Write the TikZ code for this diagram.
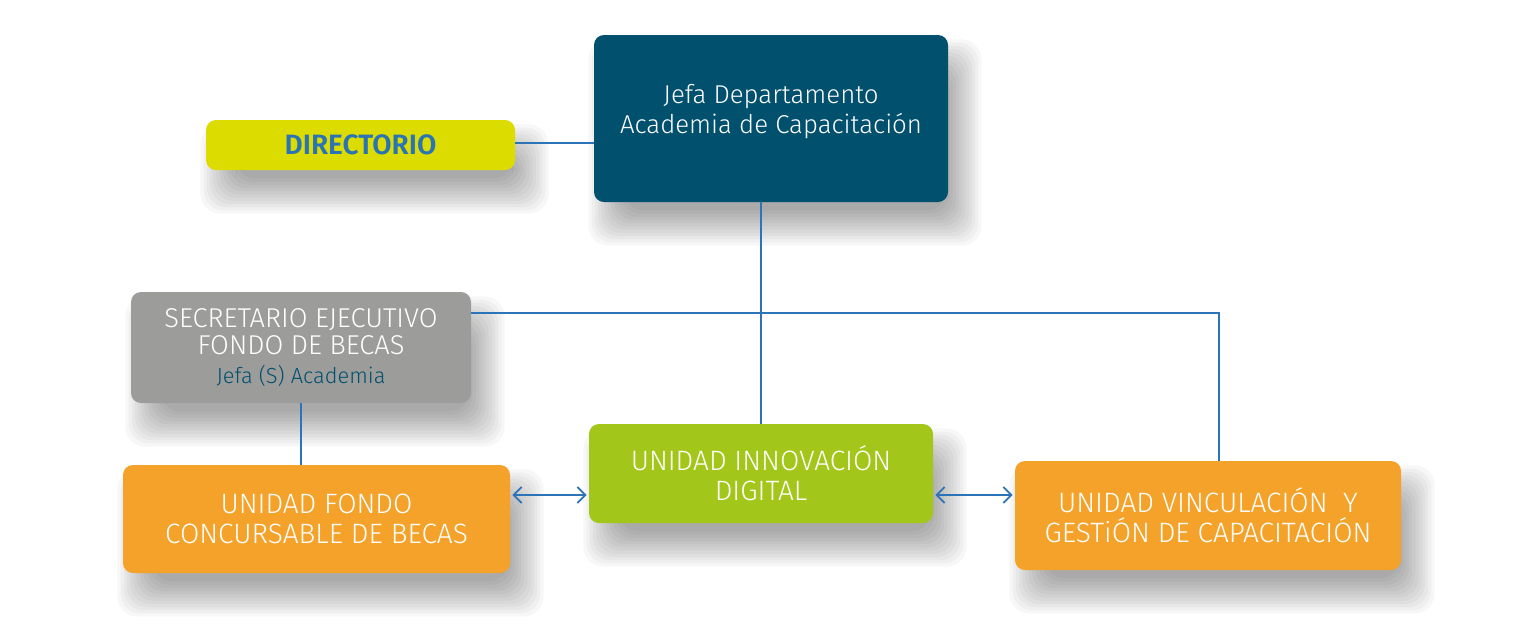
\documentclass[tikz,border=0pt]{standalone}
\usepackage{fontspec}
\setmainfont{Fira Sans Light}[BoldFont={Fira Sans SemiBold}]
\usetikzlibrary{arrows.meta,backgrounds}
\definecolor{jefacol}{HTML}{01506E}
\definecolor{dircol}{HTML}{DCDC00}
\definecolor{dirtxt}{HTML}{2A74B6}
\definecolor{secrcol}{HTML}{9C9C9B}
\definecolor{orangecol}{HTML}{F5A22A}
\definecolor{greencol}{HTML}{A3C61A}
\definecolor{linecol}{HTML}{2C73B8}
\tikzset{
  unit/.style={rounded corners=5pt, text=white, align=center, inner sep=0pt},
  shadowlayer/.style={fill=black, opacity=0.033, rounded corners=10pt},
  conn/.style={draw=linecol, line width=0.9pt},
  twoway/.style={conn, {Straight Barb[length=4pt,width=8pt]}-{Straight Barb[length=4pt,width=8pt]}}
}
\begin{document}
\begin{tikzpicture}[x=0.5pt, y=-0.5pt]
  \useasboundingbox (0,0) rectangle (1536,634);

  % boxes
  \node[unit, fill=jefacol, minimum width=177pt, minimum height=83.5pt,
        font=\fontsize{12.9}{15}\selectfont] (jefa) at (771,118.5)
        {Jefa Departamento\\Academia de Capacitación\\[-5pt]\mbox{}};
  \node[unit, fill=dircol, text=dirtxt, minimum width=154.5pt, minimum height=25pt,
        font=\fontsize{14}{15}\selectfont\bfseries] (dir) at (360.5,145) {DIRECTORIO};
  \node[unit, fill=secrcol, minimum width=170pt, minimum height=55.5pt,
        font=\fontsize{13.6}{13.4}\selectfont] (secr) at (301,347.5)
        {SECRETARIO EJECUTIVO\\FONDO DE BECAS\\[1pt]
         {\fontsize{10.9}{11}\selectfont\color{jefacol}Jefa (S) Academia}};
  \node[unit, fill=orangecol, minimum width=193.5pt, minimum height=54pt,
        font=\fontsize{14}{15}\selectfont] (fondo) at (316.5,519)
        {UNIDAD FONDO\\CONCURSABLE DE BECAS};
  \node[unit, fill=greencol, minimum width=172pt, minimum height=49.5pt,
        font=\fontsize{14}{15}\selectfont] (innov) at (761,473.5)
        {\rule{0pt}{10pt}UNIDAD INNOVACIÓN\\DIGITAL};
  \node[unit, fill=orangecol, minimum width=193pt, minimum height=54.5pt,
        font=\fontsize{14}{15}\selectfont] (vinc) at (1208,515.5)
        {UNIDAD VINCULACIÓN\ \ Y\\GESTiÓN DE CAPACITACIÓN};

  % soft shadows under the boxes
  \begin{scope}[on background layer]
    \fill[white] (0,0) rectangle (1536,634);
    \foreach \n in {jefa,dir,secr,fondo,innov,vinc}
      \foreach \k in {0,...,11}
        \fill[shadowlayer]
          ([shift={(7pt-\k*1.6pt+8pt,-12pt-\k*1.6pt+8pt)}]\n.south west) rectangle
          ([shift={(7pt+\k*1.6pt-8pt,-12pt+\k*1.6pt-8pt)}]\n.north east);
  \end{scope}

  % connectors
  \coordinate (turn) at (1219,313);
  \coordinate (arrowrow) at (0,495);
  \draw[conn] (dir.east |- 0,143) -- (jefa.west |- 0,143);
  \draw[conn, line width=1.3pt] (innov.north |- jefa.south) -- (innov.north);
  \draw[conn] (turn -| secr.east) -- (turn) -- (turn |- vinc.north);
  \draw[conn] (secr.south) -- (secr.south |- fondo.north);
  \draw[twoway] ([xshift=1pt]fondo.east |- arrowrow) -- ([xshift=-1pt]innov.west |- arrowrow);
  \draw[twoway] ([xshift=1pt]innov.east |- arrowrow) -- ([xshift=-1pt]vinc.west |- arrowrow);
\end{tikzpicture}
\end{document}
